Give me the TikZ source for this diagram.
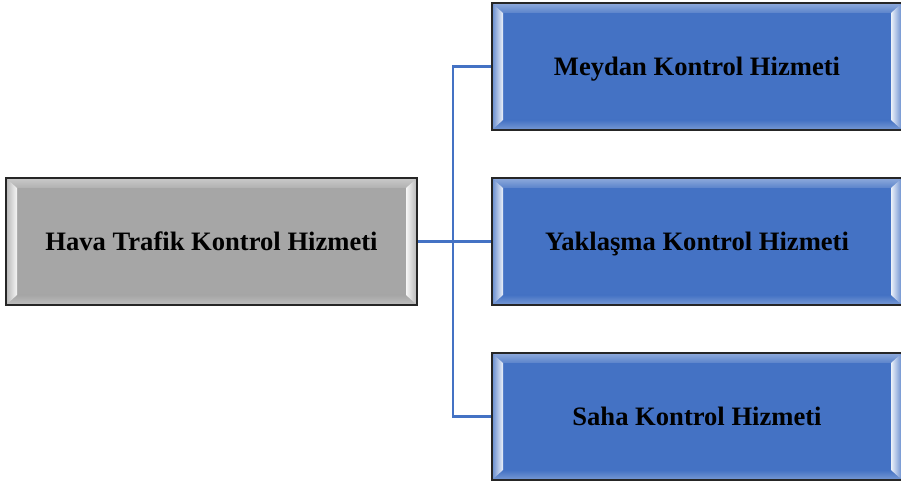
\documentclass[tikz,border=0pt]{standalone}
\usepackage{fontspec}
\setmainfont{Liberation Serif}
\usetikzlibrary{calc}

\definecolor{greyfill}{HTML}{A6A6A6}
\definecolor{bluefill}{HTML}{4472C4}
\definecolor{linkblue}{HTML}{4472C4}

\tikzset{
  x=1pt, y=1pt,
  % rectangle with a bevelled frame: light side strips, softer top and bottom strips
  bevelbox/.style={
    draw=black!85, line width=1.6pt, fill=#1,
    minimum width=410pt, minimum height=127pt, inner sep=0pt,
    text height=17.5pt, text depth=0pt,
    font=\fontsize{26.6}{31}\selectfont\bfseries, text=black,
    path picture={
      \path (path picture bounding box.south west) coordinate (bw-sw)
            (path picture bounding box.north east) coordinate (bw-ne);
      \path (bw-sw |- bw-ne) coordinate (bw-nw) (bw-ne |- bw-sw) coordinate (bw-se);
      % top strip
      \shade[top color=#1!60!white, bottom color=#1!88!white]
        (bw-nw) -- (bw-ne) -- ($(bw-ne)+(-11pt,-10pt)$) -- ($(bw-nw)+(11pt,-10pt)$) -- cycle;
      % bottom strip
      \shade[top color=#1, bottom color=#1!72!white]
        (bw-sw) -- (bw-se) -- ($(bw-se)+(-11pt,10pt)$) -- ($(bw-sw)+(11pt,10pt)$) -- cycle;
      % left strip
      \shade[left color=#1!82!white, right color=white!90!#1]
        (bw-sw) -- (bw-nw) -- ($(bw-nw)+(11pt,-10pt)$) -- ($(bw-sw)+(11pt,10pt)$) -- cycle;
      % right strip
      \shade[left color=white!90!#1, right color=#1!82!white]
        (bw-se) -- (bw-ne) -- ($(bw-ne)+(-11pt,-10pt)$) -- ($(bw-se)+(-11pt,10pt)$) -- cycle;
    }
  },
  link/.style={draw=linkblue, line width=2.4pt}
}

\begin{document}
\begin{tikzpicture}
  \useasboundingbox (0,0) rectangle (901,484);

  \node[bevelbox=greyfill, minimum width=411pt] (root) at (211.5,242.5) {Hava Trafik Kontrol Hizmeti};

  \node[bevelbox=bluefill] (meydan)   at (697,417.5) {Meydan Kontrol Hizmeti};
  \node[bevelbox=bluefill] (yaklasma) at (697,242.5) {Yaklaşma Kontrol Hizmeti};
  \node[bevelbox=bluefill] (saha)     at (697,67.5)  {Saha Kontrol Hizmeti};

  % connectors
  \draw[link] (root.east) -- (yaklasma.west);
  \draw[link] (meydan.west) -- ++(-38,0) |- (saha.west);
\end{tikzpicture}
\end{document}
